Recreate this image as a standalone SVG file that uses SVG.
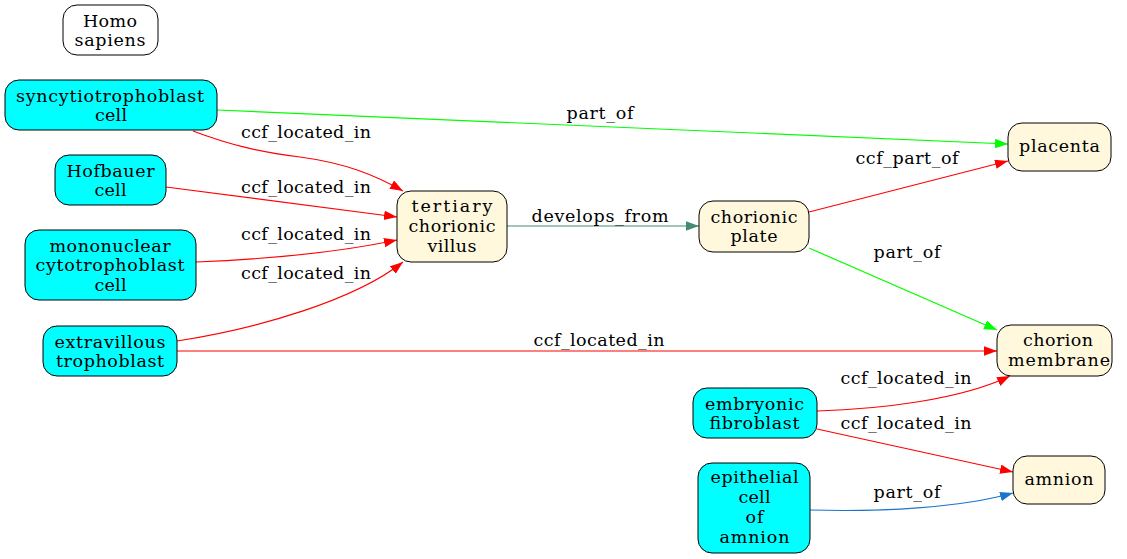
<svg xmlns="http://www.w3.org/2000/svg" width="1127" height="559" viewBox="0 0 1127 559">
<style>
text{font-family:"DejaVu Serif",serif;font-size:17.5px;fill:#000;text-anchor:middle}
.n rect{stroke:#000;stroke-width:1}
.cyan{fill:#00ffff}
.cream{fill:#fff8dc}
.white{fill:#fff}
.e{fill:none;stroke-width:1.2}
.red{stroke:#ff0000}
.green{stroke:#00ff00}
.teal{stroke:#458b74}
.blue{stroke:#1874cd}
</style>
<defs>
<marker id="aR" markerUnits="userSpaceOnUse" markerWidth="14" markerHeight="10" refX="13" refY="4.75" orient="auto"><path d="M0,0 L13,4.75 L0,9.5 Z" fill="#ff0000"/></marker>
<marker id="aG" markerUnits="userSpaceOnUse" markerWidth="14" markerHeight="10" refX="13" refY="4.75" orient="auto"><path d="M0,0 L13,4.75 L0,9.5 Z" fill="#00ff00"/></marker>
<marker id="aT" markerUnits="userSpaceOnUse" markerWidth="14" markerHeight="10" refX="13" refY="4.75" orient="auto"><path d="M0,0 L13,4.75 L0,9.5 Z" fill="#458b74"/></marker>
<marker id="aB" markerUnits="userSpaceOnUse" markerWidth="14" markerHeight="10" refX="13" refY="4.75" orient="auto"><path d="M0,0 L13,4.75 L0,9.5 Z" fill="#1874cd"/></marker>
</defs>
<rect width="1127" height="559" fill="#fff"/>
<g id="edges">
<path class="e green" d="M217,110 L1008,144" marker-end="url(#aG)"/>
<text x="600" y="119" textLength="67">part_of</text>
<path class="e red" d="M193,131 C230,145 260,152 300,157 C345,163 375,175 403,191" marker-end="url(#aR)"/>
<text x="306" y="138" textLength="130">ccf_located_in</text>
<path class="e red" d="M166,187 L397,217" marker-end="url(#aR)"/>
<text x="306" y="193" textLength="130">ccf_located_in</text>
<path class="e red" d="M196,262 C270,259 340,252 397,240" marker-end="url(#aR)"/>
<text x="306" y="240" textLength="130">ccf_located_in</text>
<path class="e red" d="M177,341 C260,328 355,300 403,262" marker-end="url(#aR)"/>
<text x="306" y="279" textLength="130">ccf_located_in</text>
<path class="e red" d="M177,351 L997,351" marker-end="url(#aR)"/>
<text x="599" y="346" textLength="131">ccf_located_in</text>
<path class="e teal" d="M507,226 L699,226" marker-end="url(#aT)"/>
<text x="600" y="222" textLength="137">develops_from</text>
<path class="e red" d="M809,212 L1008,161" marker-end="url(#aR)"/>
<text x="907" y="164" textLength="103">ccf_part_of</text>
<path class="e green" d="M809,248 L997,330" marker-end="url(#aG)"/>
<text x="907" y="258" textLength="67">part_of</text>
<path class="e red" d="M817,411 C880,409 960,400 1010,376" marker-end="url(#aR)"/>
<text x="906" y="384" textLength="131">ccf_located_in</text>
<path class="e red" d="M817,429 L1013,472" marker-end="url(#aR)"/>
<text x="906" y="429" textLength="131">ccf_located_in</text>
<path class="e blue" d="M810,510 C880,512 960,508 1013,493" marker-end="url(#aB)"/>
<text x="907" y="498" textLength="67">part_of</text>
</g>
<g id="homo_sapiens" class="n"><rect class="white" x="63" y="5" width="95" height="50" rx="14"/><text x="110" y="26.5" textLength="54">Homo</text><text x="110" y="46" textLength="71">sapiens</text></g>
<g id="syncytiotrophoblast_cell" class="n"><rect class="cyan" x="5" y="80" width="212" height="50" rx="14"/><text x="110" y="101.5" textLength="188">syncytiotrophoblast</text><text x="111" y="121" textLength="32">cell</text></g>
<g id="hofbauer_cell" class="n"><rect class="cyan" x="55" y="155" width="111" height="50" rx="14"/><text x="110.5" y="176.5" textLength="88">Hofbauer</text><text x="110.5" y="196" textLength="32">cell</text></g>
<g id="mononuclear_cytotrophoblast_cell" class="n"><rect class="cyan" x="25" y="230" width="171" height="70" rx="14"/><text x="110" y="251.5" textLength="121">mononuclear</text><text x="110" y="271" textLength="149">cytotrophoblast</text><text x="110.5" y="291" textLength="32">cell</text></g>
<g id="extravillous_trophoblast" class="n"><rect class="cyan" x="43" y="326" width="134" height="50" rx="14"/><text x="110" y="347.5" textLength="111">extravillous</text><text x="110" y="367" textLength="108">trophoblast</text></g>
<g id="tertiary_chorionic_villus" class="n"><rect class="cream" x="397" y="191" width="110" height="71" rx="14"/><text x="452" y="212" textLength="81">tertiary</text><text x="452" y="232" textLength="87">chorionic</text><text x="452" y="252" textLength="49">villus</text></g>
<g id="chorionic_plate" class="n"><rect class="cream" x="699" y="201" width="110" height="51" rx="14"/><text x="754" y="222.5" textLength="87">chorionic</text><text x="754" y="242" textLength="47">plate</text></g>
<g id="placenta" class="n"><rect class="cream" x="1008" y="123" width="103" height="48" rx="14"/><text x="1059.5" y="152" textLength="81">placenta</text></g>
<g id="chorion_membrane" class="n"><rect class="cream" x="997" y="325" width="115" height="51" rx="14"/><text x="1058" y="346" textLength="70">chorion</text><text x="1059" y="365.5" textLength="102">membrane</text></g>
<g id="embryonic_fibroblast" class="n"><rect class="cyan" x="693" y="388" width="124" height="50" rx="14"/><text x="754.5" y="409.5" textLength="99">embryonic</text><text x="754.5" y="429" textLength="90">fibroblast</text></g>
<g id="amnion" class="n"><rect class="cream" x="1013" y="456" width="92" height="48" rx="14"/><text x="1059" y="485" textLength="69">amnion</text></g>
<g id="epithelial_cell_of_amnion" class="n"><rect class="cyan" x="698" y="463" width="112" height="90" rx="14"/><text x="754.5" y="483" textLength="88">epithelial</text><text x="754.5" y="503" textLength="32">cell</text><text x="754.5" y="523" textLength="18">of</text><text x="754.5" y="543" textLength="70">amnion</text></g>
</svg>
